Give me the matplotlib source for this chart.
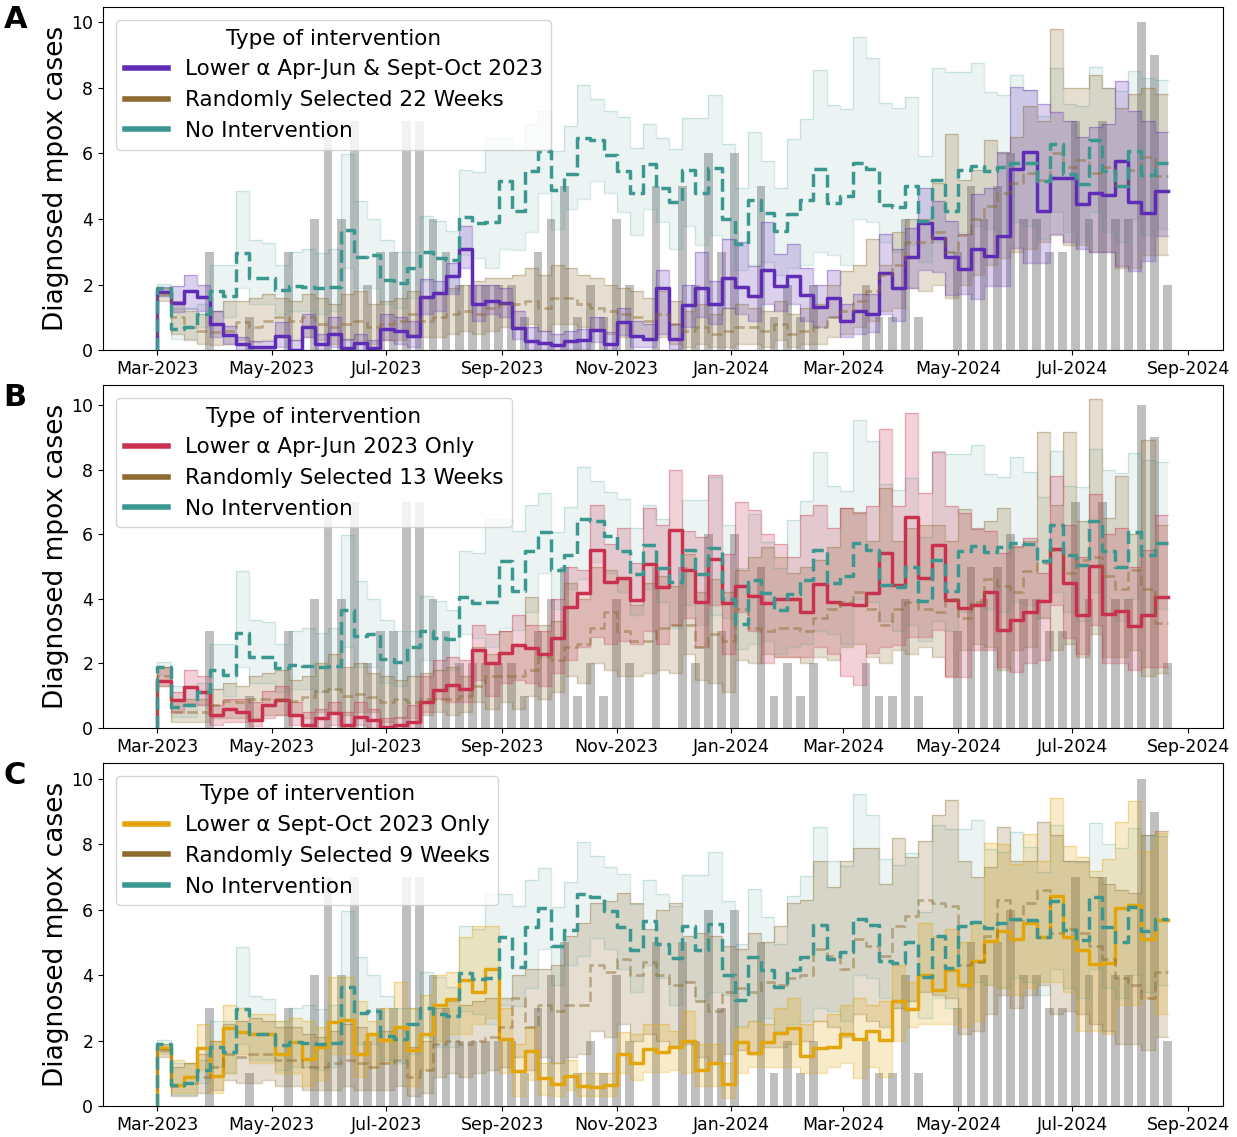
import numpy as np
import pandas as pd
import matplotlib
matplotlib.use("Agg")
import matplotlib.pyplot as plt
import matplotlib.dates as mdates
from matplotlib.lines import Line2D

# weekly time axis
dates = pd.date_range("2023-03-01", periods=78, freq="7D")

# observed weekly diagnosed cases (grey bars)
observed = [0, 0, 0, 0, 3, 0, 0, 1, 0, 0, 3, 0, 4, 7, 4, 7, 2, 3, 3, 7, 7, 4, 3, 2, 2, 2,
            2, 2, 1, 3, 4, 5, 1, 2, 1, 4, 2, 0, 5, 0, 5, 2, 6, 3, 6, 0, 5, 1, 2, 1, 2, 0,
            0, 0, 2, 1, 1, 4, 1, 0, 0, 3, 5, 4, 5, 6, 4, 4, 3, 3, 7, 4, 7, 4, 4, 10, 9, 2]

# --- No intervention (same in all panels) ---
none_med = [1.89, 0.64, 0.7, 1.1, 1.8, 1.65, 2.95, 2.2, 2.2, 1.85, 1.95, 1.93, 1.9, 1.93, 3.65, 2.85, 2.9, 2.15, 2.05, 2.5, 3.0, 2.8, 2.75, 4.07, 3.87, 3.9,
            5.16, 4.25, 5.47, 6.06, 4.88, 5.37, 6.48, 6.4, 5.96, 5.47, 4.78, 5.67, 4.96, 4.52, 5.5, 4.78, 5.57, 4.0, 3.23, 4.57, 4.17, 3.64, 4.15, 4.57, 5.52, 4.5, 4.7, 5.72,
            5.52, 4.43, 4.37, 5.0, 3.94, 5.19, 4.23, 5.49, 5.62, 5.45, 5.6, 5.72, 5.7, 5.16, 6.28, 5.37, 5.06, 6.4, 5.47, 5.0, 6.08, 5.35, 5.72]
none_hi = [2.03, 1.3, 1.3, 1.4, 2.6, 2.6, 4.86, 3.35, 3.28, 2.6, 3.0, 3.1, 2.95, 3.1, 5.97, 4.55, 4.0, 3.35, 3.0, 3.0, 4.1, 3.94, 3.64, 5.49, 5.42, 6.48,
           6.48, 6.1, 6.9, 7.28, 6.08, 6.84, 8.08, 7.65, 7.3, 7.1, 6.18, 6.9, 6.48, 6.13, 7.07, 7.07, 7.77, 6.28, 4.96, 6.64, 5.77, 4.96, 6.43, 7.04, 8.54, 7.48, 7.35, 9.55,
           8.9, 7.55, 7.38, 7.73, 5.92, 8.59, 8.47, 8.47, 8.75, 7.86, 7.77, 8.39, 7.93, 7.14, 8.59, 7.5, 7.45, 8.64, 8.0, 7.9, 8.5, 8.3, 8.25]
none_lo = [1.65, 0.35, 0.35, 0.7, 1.2, 1.0, 1.9, 1.4, 1.4, 1.1, 1.2, 1.2, 1.1, 1.2, 2.5, 1.9, 1.9, 1.4, 1.3, 1.6, 2.1, 1.8, 1.8, 2.9, 2.8, 2.5,
           3.1, 3.05, 3.6, 4.8, 3.7, 4.3, 4.6, 5.15, 4.8, 4.2, 3.5, 4.3, 3.9, 3.1, 3.8, 3.2, 3.5, 3.4, 2.45, 2.6, 2.7, 2.3, 2.5, 2.6, 3.0, 2.9, 2.6, 4.0,
           3.9, 3.3, 3.0, 3.2, 2.7, 3.3, 3.0, 3.6, 3.8, 3.7, 3.6, 3.9, 3.8, 3.4, 4.2, 3.6, 3.3, 4.2, 3.6, 3.3, 4.0, 3.5, 3.7]

# --- Panel A ---
a_med = [1.76, 1.45, 1.81, 1.63, 0.81, 0.46, 0.2, 0.1, 0.1, 0.44, 0.0, 0.71, 0.18, 0.49, 0.08, 0.21, 0.08, 0.66, 0.59, 0.44, 1.63, 1.73, 2.27, 3.08, 1.4, 1.5,
         1.45, 0.67, 0.28, 0.23, 0.16, 0.28, 0.31, 0.61, 0.18, 0.86, 0.44, 0.34, 1.89, 0.34, 1.38, 1.89, 1.42, 2.2, 1.93, 1.64, 2.44, 1.96, 2.26, 1.69, 1.32, 1.6, 0.88, 1.21,
         1.1, 2.34, 1.89, 2.83, 3.89, 3.43, 2.85, 2.49, 3.08, 2.87, 3.49, 5.52, 6.03, 4.25, 5.26, 5.26, 4.45, 4.79, 4.74, 5.77, 4.52, 4.19, 4.86]
a_hi = [1.93, 1.96, 2.3, 2.0, 1.2, 0.74, 0.39, 0.28, 0.28, 0.85, 0.3, 1.1, 0.5, 1.0, 0.35, 0.5, 0.3, 1.1, 1.0, 0.9, 2.16, 2.1, 2.65, 3.79, 2.0, 2.0,
        1.9, 1.2, 0.7, 0.6, 0.5, 0.6, 0.65, 1.0, 0.55, 1.3, 0.9, 0.8, 2.44, 0.8, 2.0, 3.0, 2.1, 3.4, 3.3, 2.57, 3.9, 2.93, 3.23, 2.5, 2.0, 2.44, 1.4, 1.7,
        1.7, 3.54, 3.08, 3.74, 4.96, 4.55, 3.94, 3.54, 4.76, 4.96, 6.03, 8.03, 7.93, 7.5, 7.25, 7.0, 6.5, 6.8, 6.9, 8.2, 7.3, 7.0, 6.64]
a_lo = [1.66, 1.15, 1.25, 1.2, 0.39, 0.18, 0.0, 0.0, 0.0, 0.1, 0.0, 0.4, 0.0, 0.1, 0.0, 0.0, 0.0, 0.3, 0.2, 0.1, 1.1, 1.2, 1.7, 2.52, 0.9, 1.1,
        1.0, 0.35, 0.05, 0.05, 0.0, 0.05, 0.05, 0.25, 0.0, 0.45, 0.1, 0.1, 0.5, 0.05, 0.7, 1.0, 0.8, 1.3, 1.1, 0.9, 1.4, 1.2, 1.4, 0.9, 0.7, 1.0, 0.4, 0.5,
        0.54, 1.1, 0.9, 1.91, 2.44, 2.37, 1.68, 1.71, 1.55, 1.96, 1.96, 3.13, 2.67, 2.67, 3.54, 3.3, 3.1, 3.0, 3.0, 2.57, 2.42, 2.72, 3.49]
a_rand_med = [1.7, 1.0, 0.7, 0.6, 0.55, 0.6, 0.85, 0.7, 0.9, 1.0, 0.9, 1.0, 0.8, 0.7, 0.8, 0.9, 0.7, 0.8, 0.9, 1.1, 0.9, 1.0, 1.1, 1.2, 1.1, 1.3,
              1.4, 1.4, 1.5, 1.3, 1.6, 1.6, 1.4, 1.3, 1.2, 1.1, 1.0, 0.9, 1.1, 0.8, 0.6, 0.7, 0.5, 0.6, 0.7, 0.7, 0.6, 0.8, 0.5, 0.6, 0.7, 1.0, 1.2, 1.5,
              1.8, 2.3, 2.6, 3.3, 3.3, 3.6, 3.0, 3.5, 4.0, 4.4, 4.8, 5.1, 5.4, 5.2, 6.0, 5.6, 5.8, 5.4, 5.6, 5.0, 5.5, 5.9, 5.3]
a_rand_hi = [1.9, 1.5, 1.2, 1.1, 1.2, 1.5, 1.5, 1.6, 1.7, 1.6, 1.5, 1.7, 1.6, 1.4, 1.7, 1.8, 1.4, 1.5, 1.6, 1.8, 1.6, 1.7, 1.9, 2.0, 2.1, 2.2,
             2.2, 2.3, 2.5, 2.3, 2.6, 2.5, 2.3, 2.2, 2.0, 1.9, 1.8, 1.6, 1.8, 1.5, 1.2, 1.4, 1.1, 1.3, 1.4, 1.3, 1.2, 1.5, 1.1, 1.3, 1.4, 2.0, 2.4, 2.6,
             3.4, 2.6, 3.6, 4.0, 4.0, 5.1, 6.6, 5.2, 5.5, 6.4, 6.0, 6.5, 7.45, 7.0, 9.8, 7.99, 7.99, 8.39, 8.0, 7.4, 7.8, 8.0, 7.8]
a_rand_lo = [1.5, 0.5, 0.3, 0.2, 0.15, 0.2, 0.3, 0.25, 0.3, 0.4, 0.3, 0.4, 0.3, 0.2, 0.3, 0.3, 0.2, 0.3, 0.3, 0.5, 0.4, 0.4, 0.5, 0.6, 0.5, 0.6,
             0.7, 0.7, 0.8, 0.6, 0.8, 0.8, 0.7, 0.6, 0.5, 0.4, 0.4, 0.3, 0.4, 0.2, 0.1, 0.2, 0.1, 0.1, 0.2, 0.2, 0.1, 0.3, 0.1, 0.2, 0.2, 0.4, 0.5, 0.7,
             0.9, 1.2, 1.3, 1.9, 1.8, 2.0, 1.6, 2.0, 2.3, 2.6, 2.8, 3.0, 3.1, 3.3, 3.5, 3.2, 3.2, 3.0, 3.0, 2.5, 2.5, 2.9, 2.9]

# --- Panel B ---
b_med = [1.47, 0.87, 1.28, 1.12, 0.4, 0.58, 0.5, 0.25, 0.71, 0.87, 0.4, 0.09, 0.3, 0.45, 0.09, 0.35, 0.25, 0.04, 0.09, 0.2, 0.82, 1.18, 1.33, 1.2, 2.41,
         2.0, 2.33, 2.57, 2.47, 2.29, 2.78, 3.76, 4.17, 5.51, 4.53, 4.63, 3.96, 5.08, 4.38, 6.13, 4.89, 3.91, 5.22, 3.86, 4.4, 4.09, 3.86, 3.98, 3.98, 3.6, 4.46, 3.91, 3.85, 3.8,
         4.18, 5.42, 4.44, 6.54, 4.64, 5.68, 3.97, 3.73, 3.81, 4.2, 3.04, 3.35, 3.58, 3.92, 5.54, 4.49, 3.5, 5.03, 3.52, 3.63, 3.16, 3.5, 4.07]
b_hi = [1.9, 1.1, 1.8, 1.6, 0.7, 0.9, 0.9, 0.8, 1.15, 1.3, 0.8, 0.5, 0.6, 0.8, 0.5, 0.8, 0.6, 0.3, 0.35, 0.7, 1.6, 2.1, 2.2, 2.1, 3.2,
        2.9, 3.0, 3.5, 3.2, 3.0, 4.0, 5.0, 4.9, 6.9, 5.7, 6.2, 5.1, 6.8, 6.3, 8.0, 6.1, 5.9, 7.83, 5.4, 7.0, 6.75, 6.0, 5.7, 5.3, 6.6, 6.9, 6.2, 6.8, 6.66,
        6.87, 9.27, 6.87, 9.74, 7.28, 8.53, 6.87, 6.66, 6.15, 6.1, 5.42, 5.63, 5.89, 4.8, 7.8, 6.3, 5.3, 7.23, 6.0, 6.2, 5.0, 5.5, 6.61]
b_lo = [1.3, 0.5, 0.76, 0.7, 0.1, 0.2, 0.2, 0.05, 0.3, 0.4, 0.1, 0.0, 0.0, 0.1, 0.0, 0.1, 0.0, 0.0, 0.0, 0.0, 0.5, 0.9, 0.8, 0.8, 1.5,
        1.0, 1.4, 1.5, 1.4, 1.3, 1.7, 2.1, 2.5, 2.83, 2.6, 2.7, 2.6, 3.0, 2.6, 3.2, 3.4, 2.5, 3.8, 2.3, 3.6, 3.0, 2.0, 2.2, 2.2, 2.2, 2.5, 2.3, 1.6, 1.33,
        2.31, 2.52, 2.57, 2.83, 2.83, 3.04, 1.59, 1.59, 2.41, 2.41, 1.9, 1.74, 2.0, 2.1, 3.8, 2.8, 2.3, 3.2, 2.0, 2.0, 1.8, 1.9, 1.9]
b_rand_med = [1.6, 0.5, 0.5, 0.5, 0.7, 0.85, 0.8, 0.9, 0.9, 0.9, 0.85, 0.95, 1.15, 1.2, 1.0, 1.05, 0.95, 0.8, 0.9, 0.8, 0.9, 0.9, 0.9, 1.0, 1.3,
              1.6, 1.6, 1.6, 1.8, 2.2, 2.1, 2.5, 2.6, 3.1, 3.6, 3.0, 2.7, 2.7, 3.1, 3.2, 3.2, 2.5, 2.9, 2.7, 3.7, 3.1, 3.0, 3.1, 3.1, 3.0, 3.4, 3.7, 3.9, 4.2,
              3.7, 3.2, 3.7, 3.9, 3.7, 3.6, 4.0, 3.4, 3.9, 4.6, 4.4, 4.2, 4.85, 5.1, 5.5, 4.8, 5.2, 5.3, 4.7, 4.3, 4.9, 4.3, 3.24]
b_rand_hi = [1.9, 0.9, 0.9, 0.9, 1.2, 1.4, 1.3, 1.6, 1.7, 1.8, 1.5, 1.6, 2.0, 2.3, 1.9, 2.0, 1.7, 1.6, 1.5, 1.6, 1.7, 1.8, 1.9, 1.6, 2.5,
             2.3, 3.0, 2.6, 4.07, 3.2, 3.3, 4.5, 4.0, 5.0, 4.9, 4.6, 3.8, 4.5, 4.7, 4.4, 5.4, 4.2, 4.6, 4.2, 4.9, 5.3, 5.6, 5.3, 4.8, 5.0, 5.2, 5.6, 6.8, 6.7,
             5.8, 7.44, 5.8, 6.2, 6.3, 6.3, 5.8, 6.77, 6.2, 6.4, 6.8, 5.6, 5.8, 9.15, 6.9, 9.18, 6.4, 10.19, 6.5, 7.8, 6.0, 8.92, 6.3]
b_rand_lo = [1.3, 0.2, 0.2, 0.2, 0.3, 0.3, 0.3, 0.3, 0.4, 0.4, 0.4, 0.3, 0.5, 0.5, 0.4, 0.5, 0.5, 0.2, 0.3, 0.3, 0.4, 0.5, 0.4, 0.5, 0.8,
             0.6, 0.8, 0.6, 1.0, 0.9, 1.1, 1.6, 1.4, 2.0, 1.8, 1.6, 1.6, 1.7, 1.8, 1.7, 2.3, 1.5, 1.4, 1.1, 2.1, 2.0, 2.3, 2.2, 2.2, 2.0, 2.2, 2.1, 2.5, 2.6,
             2.2, 2.0, 2.4, 2.3, 2.5, 2.2, 1.6, 2.4, 2.6, 2.5, 1.8, 2.4, 2.5, 3.4, 2.4, 2.6, 2.2, 2.9, 2.2, 2.2, 2.4, 1.6, 1.7]

# --- Panel C ---
c_med = [1.76, 0.64, 0.9, 1.76, 0.91, 2.37, 2.27, 2.2, 2.2, 1.6, 1.96, 1.45, 1.81, 2.57, 2.62, 1.6, 2.2, 2.03, 2.42, 1.71, 2.2, 3.1, 3.28, 3.86, 3.49, 4.2,
         2.06, 1.07, 1.69, 0.84, 0.67, 0.91, 0.61, 0.57, 0.64, 1.59, 1.3, 1.73, 1.66, 1.81, 1.99, 1.1, 1.3, 0.67, 1.96, 1.63, 1.96, 2.24, 2.37, 1.52, 1.76, 1.79, 2.2, 2.06,
         2.3, 2.03, 3.2, 2.96, 4.0, 3.54, 4.17, 3.71, 4.42, 5.03, 5.35, 5.11, 5.6, 5.16, 6.43, 5.16, 4.76, 4.35, 4.38, 6.05, 6.16, 5.11, 5.69]
c_hi = [1.9, 1.4, 1.3, 2.5, 2.0, 3.1, 3.0, 2.8, 2.8, 2.6, 2.7, 2.6, 2.4, 3.95, 3.95, 3.2, 2.6, 3.0, 3.8, 3.0, 3.4, 4.0, 4.1, 5.16, 5.5, 5.5,
        3.0, 1.9, 2.4, 1.3, 1.3, 1.4, 1.0, 1.0, 1.0, 2.25, 2.2, 2.5, 2.5, 2.3, 2.9, 1.9, 1.9, 1.3, 2.4, 2.6, 2.5, 3.0, 3.3, 2.5, 2.6, 2.8, 3.1, 3.3,
        3.1, 3.2, 4.3, 3.8, 5.6, 5.2, 5.4, 5.0, 5.6, 8.05, 8.0, 7.4, 8.33, 7.5, 9.41, 7.96, 7.6, 7.2, 7.55, 8.67, 9.33, 7.8, 8.36]
c_lo = [1.6, 0.4, 0.4, 1.1, 0.4, 1.0, 1.6, 1.3, 1.3, 1.0, 1.0, 0.6, 0.8, 1.6, 1.6, 0.9, 1.2, 1.3, 1.5, 0.6, 1.1, 2.0, 2.2, 2.2, 2.5, 2.7,
        1.0, 0.3, 0.8, 0.35, 0.3, 0.5, 0.3, 0.3, 0.3, 1.0, 0.8, 1.05, 1.05, 1.1, 1.0, 0.6, 0.6, 0.25, 1.0, 1.2, 1.2, 1.2, 1.2, 1.0, 1.0, 1.2, 1.3, 0.85,
        1.2, 0.9, 2.0, 2.4, 2.5, 2.5, 2.5, 2.4, 2.6, 3.7, 3.6, 3.4, 3.6, 3.8, 3.8, 3.5, 2.3, 2.3, 2.2, 3.1, 3.1, 3.3, 2.8]
c_rand_med = [1.7, 0.6, 0.7, 0.9, 1.2, 1.6, 1.5, 1.6, 1.6, 1.4, 1.4, 1.2, 1.2, 1.3, 1.4, 1.3, 1.2, 1.3, 1.4, 0.9, 1.1, 1.9, 2.0, 1.9, 2.0, 2.1,
              2.4, 3.3, 2.4, 3.1, 2.9, 3.1, 3.1, 4.3, 4.1, 4.5, 4.0, 4.4, 4.0, 3.7, 3.8, 3.2, 2.9, 3.5, 3.6, 3.5, 3.8, 3.7, 3.9, 4.0, 4.8, 4.6, 4.2, 5.1,
              4.9, 4.6, 5.5, 5.8, 6.3, 6.2, 6.1, 4.3, 4.4, 5.2, 6.3, 5.7, 6.2, 6.6, 5.3, 5.4, 5.3, 4.9, 4.5, 3.9, 3.7, 3.3, 4.1]
c_rand_hi = [1.9, 1.2, 1.3, 1.6, 2.0, 2.5, 2.6, 2.7, 2.6, 2.4, 2.4, 2.2, 2.1, 2.3, 2.5, 2.4, 2.2, 2.3, 2.4, 1.8, 2.0, 3.0, 3.2, 3.1, 3.2, 3.3,
             3.3, 4.0, 4.2, 4.2, 4.3, 5.2, 5.6, 6.2, 6.28, 6.5, 6.2, 5.4, 6.0, 6.2, 5.2, 5.3, 5.2, 4.9, 4.8, 5.3, 5.0, 5.5, 6.2, 6.3, 7.5, 6.7, 7.5, 7.9,
             7.9, 6.8, 8.2, 7.6, 8.1, 8.9, 9.35, 7.5, 7.0, 7.3, 8.52, 7.5, 7.5, 8.69, 8.3, 7.5, 7.5, 7.0, 6.8, 6.6, 6.5, 8.3, 8.4]
c_rand_lo = [1.5, 0.3, 0.3, 0.4, 0.5, 0.8, 0.7, 0.7, 0.8, 0.6, 0.6, 0.5, 0.5, 0.5, 0.6, 0.5, 0.5, 0.5, 0.6, 0.3, 0.4, 0.9, 1.0, 0.9, 1.0, 1.1,
             1.2, 1.5, 1.1, 1.5, 1.3, 1.5, 1.6, 2.3, 2.1, 2.5, 2.0, 2.2, 2.0, 1.8, 1.9, 1.5, 1.3, 1.6, 1.7, 1.6, 1.8, 1.8, 1.9, 2.0, 2.6, 2.4, 2.1, 2.8,
             2.6, 2.4, 3.0, 3.2, 3.5, 3.4, 3.3, 2.2, 2.3, 2.8, 3.4, 3.0, 3.4, 3.7, 2.8, 2.9, 2.8, 2.5, 2.3, 1.9, 1.9, 1.7, 2.1]

TEAL = "#3b978f"
BROWN = "#8d6a2f"

panels = [
    ("A", "Lower α Apr-Jun & Sept-Oct 2023", "#5f2db5", a_med, a_lo, a_hi,
     "Randomly Selected 22 Weeks", a_rand_med, a_rand_lo, a_rand_hi, 10.46),
    ("B", "Lower α Apr-Jun 2023 Only", "#c8324f", b_med, b_lo, b_hi,
     "Randomly Selected 13 Weeks", b_rand_med, b_rand_lo, b_rand_hi, 10.62),
    ("C", "Lower α Sept-Oct 2023 Only", "#e2a50c", c_med, c_lo, c_hi,
     "Randomly Selected 9 Weeks", c_rand_med, c_rand_lo, c_rand_hi, 10.49),
]


def series(vals):
    # leading zero so the first step rises from the baseline
    return np.concatenate([[0.0], vals])


def band(ax, lo, hi, color, alpha):
    ax.fill_between(dates, series(lo), series(hi), step="pre",
                    facecolor=color, alpha=alpha, edgecolor="none")
    ax.plot(dates, series(hi), drawstyle="steps-pre", color=color, alpha=alpha + 0.1, lw=1)
    ax.plot(dates, series(lo), drawstyle="steps-pre", color=color, alpha=alpha + 0.1, lw=1)


fig = plt.figure(figsize=(12.37, 11.37), dpi=100)
bottoms = [0.692, 0.3597, 0.0273]
AX_LEFT, AX_W, AX_H = 0.0833, 0.9054, 0.3017

for (letter, lab, col, med, lo, hi, rlab, rmed, rlo, rhi, ytop), bot in zip(panels, bottoms):
    ax = fig.add_axes([AX_LEFT, bot, AX_W, AX_H])
    ax.bar(dates, observed, width=4.7, color="grey", alpha=0.5, zorder=1)

    band(ax, none_lo, none_hi, TEAL, 0.1)
    band(ax, rlo, rhi, BROWN, 0.22)
    band(ax, lo, hi, col, 0.22)

    ax.plot(dates, series(med), drawstyle="steps-pre", color=col, lw=2.5, zorder=4)
    ax.plot(dates, series(rmed), drawstyle="steps-pre", color=BROWN, lw=2,
            ls="--", alpha=0.45, zorder=4)
    ax.plot(dates, series(none_med), drawstyle="steps-pre", color=TEAL, lw=2.5,
            ls="--", zorder=5)

    ax.set_ylim(0, ytop)
    ax.set_xlim(pd.Timestamp("2023-01-31"), pd.Timestamp("2024-09-19 12:00"))
    ax.set_yticks([0, 2, 4, 6, 8, 10])
    ax.xaxis.set_major_locator(mdates.MonthLocator(bymonth=[1, 3, 5, 7, 9, 11]))
    ax.xaxis.set_major_formatter(mdates.DateFormatter("%b-%Y"))
    ax.tick_params(axis="both", labelsize=12.5)
    ax.set_ylabel("Diagnosed mpox cases", fontsize=19, labelpad=2)

    handles = [Line2D([], [], color=col, lw=4),
               Line2D([], [], color=BROWN, lw=4),
               Line2D([], [], color=TEAL, lw=4)]
    leg = ax.legend(handles, [lab, rlab, "No Intervention"], title="Type of intervention",
                    loc="upper left", fontsize=15.5, title_fontsize=15.5, framealpha=0.8,
                    handlelength=2.0, borderaxespad=0.6)
    leg.set_zorder(10)

    fig.text(0.003, bot + AX_H + 0.002, letter, fontsize=22, fontweight="bold",
             va="top", ha="left")

fig.savefig("out.png", dpi=100)
